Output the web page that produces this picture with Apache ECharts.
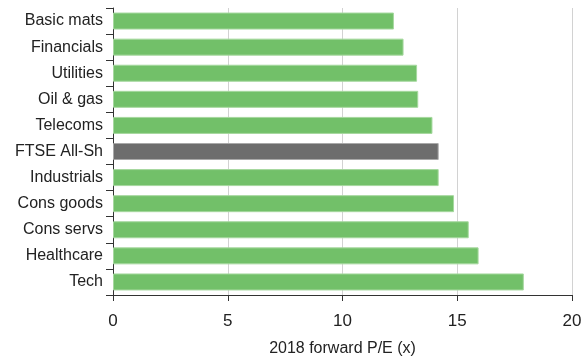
<!DOCTYPE html>
<html lang="en">
<head>
    <meta charset="UTF-8">
    <title>forward P/E by sector</title>
    <script src="https://cdn.jsdelivr.net/npm/echarts@6/dist/echarts.min.js"></script>
</head>
<body style="margin:0">
    <div id="main" style="width: 587px;height:358px;"></div>

    <script>
        // sectors, top to bottom
        var sectors = ['Basic mats', 'Financials', 'Utilities', 'Oil & gas', 'Telecoms', 'FTSE All-Sh',
            'Industrials', 'Cons goods', 'Cons servs', 'Healthcare', 'Tech'];
        var forwardPE = [12.24, 12.66, 13.25, 13.3, 13.92, 14.19, 14.19, 14.86, 15.5, 15.93, 17.9];
        var benchmark = 'FTSE All-Sh';

        var font = '"Liberation Sans", Arial, sans-serif';

        var myChart = echarts.init(document.getElementById('main'));

        var barData = forwardPE.map(function (v, i) {
            var isIndex = sectors[i] === benchmark;
            return {
                value: v,
                itemStyle: isIndex
                    ? { color: '#6d6d6d', borderColor: '#a9a9a9', borderWidth: 1 }
                    : { color: '#72c069', borderColor: '#a6d89f', borderWidth: 1 }
            };
        });

        var option = {
            animation: false,
            // keep the plot box fixed, labels may sit outside it
            grid: { left: 113, right: 15, top: 8, bottom: 63, containLabel: false, outerBoundsMode: 'none' },
            xAxis: {
                type: 'value',
                min: 0,
                max: 20,
                interval: 5,
                name: '2018 forward P/E (x)',
                nameLocation: 'middle',
                nameGap: 46,
                nameTextStyle: { color: '#222', fontSize: 16, fontFamily: font },
                axisLine: { show: true, lineStyle: { color: '#333', width: 1 } },
                axisTick: { show: true, length: 6, lineStyle: { color: '#333' } },
                axisLabel: { color: '#222', fontSize: 17, fontFamily: font, margin: 18 },
                splitLine: { show: true, lineStyle: { color: '#d2d2d2', width: 1 } }
            },
            yAxis: {
                type: 'category',
                data: sectors,
                inverse: true,
                axisLine: { show: true, lineStyle: { color: '#333', width: 1 } },
                axisTick: { show: true, length: 7, lineStyle: { color: '#333' } },
                axisLabel: { color: '#222', fontSize: 16, fontFamily: font, margin: 10 }
            },
            series: [
                {
                    type: 'bar',
                    data: barData,
                    barWidth: 17,
                    z: 3
                }
            ]
        };

        myChart.setOption(option);
    </script>
</body>
</html>
